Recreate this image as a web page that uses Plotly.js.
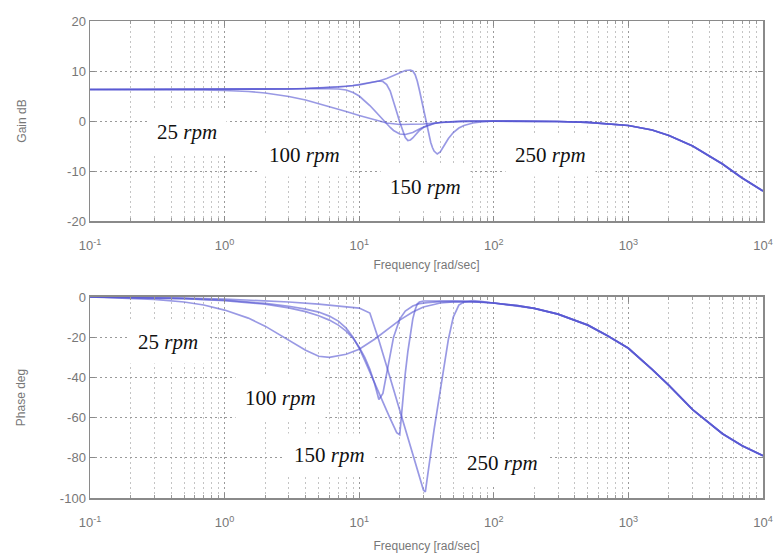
<!DOCTYPE html>
<html>
<head>
<meta charset="utf-8">
<script src="https://cdn.plot.ly/plotly-3.0.1.min.js"></script>
<style>html,body{margin:0;padding:0;background:#fff;}</style>
</head>
<body>
<div id="chart" style="width:775px;height:554px;"></div>
<script>
// ---- data ----
// common high-frequency tail (shared by all speeds)
const fTail = [150, 200, 300, 500, 700, 1000, 1500, 2000, 3000, 5000, 7000, 10000];
const gTail = [-0.02, -0.04, -0.1, -0.26, -0.5, -0.9, -1.8, -2.9, -5.0, -8.6, -11.4, -14.0];
const pTail = [-4.3, -5.7, -8.5, -14, -19.3, -25.5, -36, -44, -56, -68, -74, -79];

// 25 rpm
const f25 = [0.1, 0.2, 0.3, 0.5, 0.7, 1, 1.5, 2, 3, 4, 5, 6, 8, 10, 13, 16, 20, 25, 30, 40, 50, 70, 100];
const g25 = [6.3, 6.3, 6.3, 6.25, 6.2, 6.1, 5.9, 5.6, 4.9, 4.2, 3.5, 2.9, 1.9, 1.1, 0.3, -0.4, -0.7, -0.7, -0.6, -0.3, -0.2, -0.1, -0.05];
const p25 = [0, -0.6, -1.2, -2.5, -4, -6.5, -10.5, -14.5, -21.5, -26.5, -29.5, -30, -28.5, -26, -21, -16.5, -11.5, -7.5, -5, -3, -2.5, -2.5, -3];

// 100 rpm
const f100 = [0.1, 0.3, 0.5, 1, 2, 3, 4, 5, 6, 7, 8, 9, 10, 11, 12, 13, 14, 15, 16, 17, 18, 20, 22, 25, 28, 32, 36, 40, 50, 60, 80, 100];
const g100 = [6.3, 6.3, 6.3, 6.3, 6.35, 6.4, 6.45, 6.5, 6.5, 6.4, 6.2, 5.7, 5.0, 4.1, 3.1, 2.1, 1.1, 0.2, -0.6, -1.3, -1.9, -2.6, -2.7, -2.3, -1.6, -0.9, -0.5, -0.3, -0.1, 0, 0, 0];
const p100 = [0, -0.5, -0.8, -1.8, -3.6, -5.4, -7.3, -9.3, -11.5, -14, -17, -20.5, -25, -30, -36, -43, -51, -48, -38, -28, -20, -11, -7, -4.5, -3.3, -2.8, -2.5, -2.3, -2.2, -2.2, -2.5, -3];

// 150 rpm
const f150 = [0.1, 0.3, 0.5, 1, 2, 3, 4, 5, 6, 7, 8, 9, 10, 11, 12, 13, 14, 15, 16, 17, 18, 19, 20, 21, 22, 23, 24, 25, 26, 27, 28, 30, 33, 36, 40, 50, 60, 80, 100];
const g150 = [6.3, 6.3, 6.3, 6.3, 6.35, 6.4, 6.5, 6.6, 6.7, 6.8, 6.95, 7.1, 7.3, 7.5, 7.7, 7.9, 8.0, 7.9, 7.3, 6.0, 4.0, 1.8, -0.2, -2.0, -3.3, -3.9, -3.8, -3.4, -2.8, -2.3, -1.9, -1.3, -0.8, -0.5, -0.3, -0.1, 0, 0, 0];
const p150 = [0, -0.4, -0.8, -1.6, -3.2, -4.6, -6, -7.5, -9.5, -12, -15.5, -20, -25.5, -31.5, -37.5, -43, -48, -52.5, -56.5, -60.5, -64, -67.5, -68.5, -52, -38, -27, -18, -11, -6.5, -3.5, -2.5, -2, -2, -2, -2, -2, -2, -2.5, -3];

// 250 rpm
const f250 = [0.1, 0.3, 0.5, 1, 2, 3, 5, 7, 10, 12, 14, 16, 18, 20, 22, 24, 25, 26, 27, 28, 29, 30, 31, 32, 33, 34, 35, 36, 38, 40, 43, 46, 50, 55, 60, 70, 80, 100];
const g250 = [6.3, 6.3, 6.3, 6.3, 6.35, 6.4, 6.6, 6.8, 7.2, 7.6, 8.0, 8.5, 9.1, 9.7, 10.1, 10.2, 10.0, 9.3, 8.0, 6.2, 4.2, 2.2, 0.3, -1.5, -3.0, -4.3, -5.3, -6.0, -6.6, -6.2, -4.8, -3.5, -2.3, -1.4, -0.9, -0.4, -0.2, 0];
const p250 = [0, -0.3, -0.5, -1, -1.8, -2.5, -3.5, -4.3, -5.5, -8, -21.5, -34.5, -46, -56.5, -65.5, -74, -78, -82, -85.5, -89, -92.5, -96, -97, -90, -84, -78, -72, -66, -56, -46, -33, -21, -10, -4, -2.5, -1.8, -2.2, -3];

const speedLabels = ['25', '100', '150', '250'];
const tickVals = [0.1, 1, 10, 100, 1000, 10000];
const tickText = ['10<sup>-1</sup>', '10<sup>0</sup>', '10<sup>1</sup>', '10<sup>2</sup>', '10<sup>3</sup>', '10<sup>4</sup>'];
const gainTicks = [-20, -10, 0, 10, 20];
const gainTickText = ['-20', '-10', '0', '10', '20'];
const phaseTicks = [-100, -80, -60, -40, -20, 0];
const phaseTickText = ['-100', '-80', '-60', '-40', '-20', '0'];

// ---- build traces ----
const series = [
  {f: f25, g: g25, p: p25},
  {f: f100, g: g100, p: p100},
  {f: f150, g: g150, p: p150},
  {f: f250, g: g250, p: p250}
];
const lineStyle = {color: 'rgba(85,85,210,0.6)', width: 1.7};
const traces = [];
series.forEach(s => {
  traces.push({x: s.f.concat(fTail), y: s.g.concat(gTail), xaxis: 'x', yaxis: 'y',
               mode: 'lines', line: lineStyle, hoverinfo: 'skip', showlegend: false});
});
series.forEach(s => {
  traces.push({x: s.f.concat(fTail), y: s.p.concat(pTail), xaxis: 'x2', yaxis: 'y2',
               mode: 'lines', line: lineStyle, hoverinfo: 'skip', showlegend: false});
});

const minorVals = [];
for (let d = -1; d < 4; d++) for (let k = 2; k < 10; k++) minorVals.push(k * Math.pow(10, d));

const tickFont = {family: 'Liberation Sans, Arial, sans-serif', size: 13, color: '#777777'};
const titleFont = {family: 'Liberation Sans, Arial, sans-serif', size: 12, color: '#777777'};

function xAxis(anchor, standoff) {
  return {
    type: 'log', range: [-1, 4], anchor: anchor,
    tickvals: tickVals, ticktext: tickText, tickfont: tickFont, ticklabelstandoff: 12,
    showgrid: true, gridcolor: '#9a9a9a', griddash: '2px,3px', gridwidth: 1,
    ticks: 'inside', ticklen: 5, tickcolor: '#8a8a8a',
    minor: {tickvals: minorVals, showgrid: true, gridcolor: '#c4c4c4', griddash: '2px,3px', gridwidth: 1,
            ticks: 'inside', ticklen: 3, tickcolor: '#9a9a9a'},
    showline: true, linecolor: '#8a8a8a', linewidth: 1.5, mirror: 'ticks',
    zeroline: false,
    title: {text: 'Frequency [rad/sec]', font: titleFont, standoff: standoff}
  };
}
function yAxis(anchor, domain, range, ticks, ticktext, title, standoff) {
  return {
    domain: domain, range: range, anchor: anchor,
    tickvals: ticks, ticktext: ticktext, tickfont: tickFont,
    showgrid: true, gridcolor: '#9a9a9a', griddash: '2px,3px', gridwidth: 1,
    ticks: 'inside', ticklen: 5, tickcolor: '#8a8a8a',
    showline: true, linecolor: '#8a8a8a', linewidth: 1.5, mirror: 'ticks',
    zeroline: false,
    title: {text: title, font: titleFont, standoff: standoff}
  };
}

const annFont = {family: 'Liberation Serif, Times New Roman, serif', size: 21, color: '#111'};
const annPos = [
  // [xref, yref, log10(x), y]
  ['x', 'y', -0.279, -2.2],
  ['x', 'y', 0.597, -6.8],
  ['x', 'y', 1.489, -13.2],
  ['x', 'y', 2.418, -6.8],
  ['x2', 'y2', -0.42, -22.4],
  ['x2', 'y2', 0.412, -50.2],
  ['x2', 'y2', 0.783, -78.6],
  ['x2', 'y2', 2.061, -82.6]
];
const annotations = annPos.map((a, i) => ({
  xref: a[0], yref: a[1], x: a[2], y: a[3],
  text: speedLabels[i % 4] + ' <i>rpm</i>', showarrow: false,
  font: annFont, bgcolor: '#ffffff', borderpad: 9
}));

const layout = {
  width: 775, height: 554,
  margin: {l: 90, r: 12, t: 21, b: 56},
  paper_bgcolor: '#ffffff', plot_bgcolor: '#ffffff',
  xaxis: xAxis('y', 8),
  yaxis: yAxis('x', [0.5807, 1], [-20, 20], gainTicks, gainTickText, 'Gain dB', 38),
  xaxis2: xAxis('y2', 12),
  yaxis2: yAxis('x2', [0, 0.4214], [-100, 0], phaseTicks, phaseTickText, 'Phase deg', 31),
  annotations: annotations,
  showlegend: false
};

Plotly.newPlot('chart', traces, layout, {displayModeBar: false, staticPlot: true});
</script>
</body>
</html>
